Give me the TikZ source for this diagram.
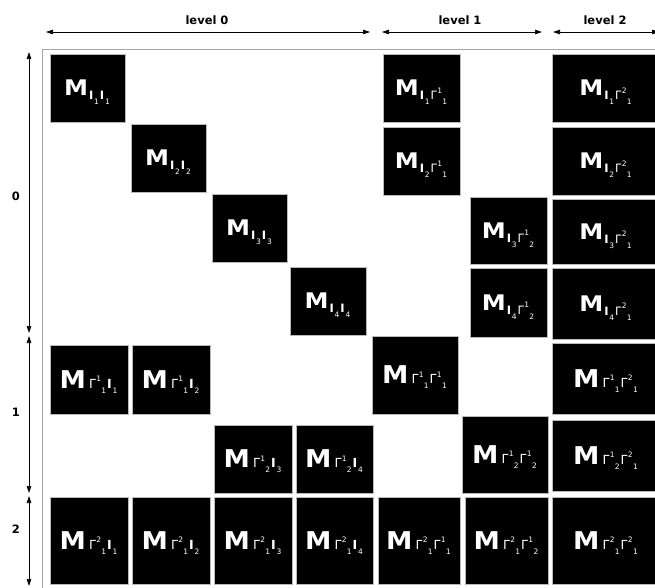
\documentclass[tikz,border=0pt]{standalone}
\usepackage{fontspec}
\setmainfont{DejaVu Sans}
\usetikzlibrary{arrows.meta,fit}

% index pieces: I with a subscript, Gamma with a superscript followed by a subscript
\newcommand\ix[2]{\raisebox{#1}{\fontsize{7.5}{7.5}\selectfont\mdseries #2}}
\newcommand\pI[1]{I\kern0.8pt\ix{-5pt}{#1}\kern1pt}
\newcommand\pG[2]{{\mdseries Γ}\kern0.3pt\ix{6.5pt}{#1}\kern0.3pt\ix{-5pt}{#2}\kern1pt}
% block labels: M followed by two index pieces
\newcommand\labI[2]{\scalebox{1.12}[1]{\fontsize{21.5}{21.5}\selectfont M}\kern1pt\raisebox{-4pt}{\fontsize{11.5}{11.5}\selectfont #1#2}}
\newcommand\labG[2]{\scalebox{1.08}[1]{\fontsize{24.5}{24.5}\selectfont M}\kern3pt{\fontsize{12.5}{12.5}\selectfont #1#2}}
% a black block given by its corners, with its label
\newcommand\blkI[6]{%
  \node[blk, fit={(#2,#3) (#4,#5)}] (#1) {};
  \node[labI] (#1-t) at ([yshift=-7.8pt]#1.center) {\labI#6};}
\newcommand\blkG[6]{%
  \node[blk, fit={(#2,#3) (#4,#5)}] (#1) {};
  \node[labG] (#1-t) at ([yshift=-8.8pt]#1.center) {\labG#6};}

\begin{document}
\begin{tikzpicture}[x=1pt,y=-1pt,
  blk/.style={fill=black, draw=gray!55, line width=0.5pt, inner sep=0pt},
  labI/.style={anchor=base, inner sep=0pt, text=white, font=\bfseries},
  labG/.style={labI},
  arr/.style={line width=0.7pt, {Triangle[length=7pt,width=4.5pt]}-{Triangle[length=7pt,width=4.5pt]}},
  frame/.style={draw=gray!70, line width=0.9pt},
  lvl/.style={font=\bfseries\fontsize{11.5}{11.5}\selectfont}]
\useasboundingbox (0,0) rectangle (655,587);
\clip (0,0) rectangle (655,587);

% outer frame
\coordinate (fr0) at (42,600);
\coordinate (fr1) at (42,49);
\coordinate (fr2) at (670,49);
\draw[frame] (fr0) -- (fr1) -- (fr2);

% level arrows along the top
\coordinate (t0a) at (46,32);  \coordinate (t0b) at (370,32);
\coordinate (t1a) at (382,32); \coordinate (t1b) at (542,32);
\coordinate (t2a) at (553,32); \coordinate (t2b) at (659,32);
\draw[arr] (t0a) -- (t0b);
\draw[arr] (t1a) -- (t1b);
\draw[arr] (t2a) -- (t2b);
\node[lvl] (lv0) at (207,20) {level 0};
\node[lvl] (lv1) at (460,20) {level 1};
\node[lvl] (lv2) at (605,20) {level 2};

% level arrows along the left side
\coordinate (l0a) at (29,52);  \coordinate (l0b) at (29,333);
\coordinate (l1a) at (29,336); \coordinate (l1b) at (29,493);
\coordinate (l2a) at (29,496); \coordinate (l2b) at (29,586);
\draw[arr] (l0a) -- (l0b);
\draw[arr] (l1a) -- (l1b);
\draw[arr] (l2a) -- (l2b);
\node[lvl] (rl0) at (16,196) {0};
\node[lvl] (rl1) at (16,412) {1};
\node[lvl] (rl2) at (16,529) {2};

% level 0 rows
\blkI{a11}{50}{54}{125}{122}{{\pI1}{\pI1}}
\blkI{b11}{383}{54}{460}{122}{{\pI1}{\pG11}}
\blkI{c11}{552}{54}{660}{122}{{\pI1}{\pG21}}

\blkI{a22}{131}{124}{206}{192}{{\pI2}{\pI2}}
\blkI{b21}{383}{127}{460}{195}{{\pI2}{\pG11}}
\blkI{c21}{552}{127}{660}{195}{{\pI2}{\pG21}}

\blkI{a33}{212}{194}{287}{262}{{\pI3}{\pI3}}
\blkI{b32}{470}{197}{547}{264}{{\pI3}{\pG12}}
\blkI{c31}{552}{199}{660}{264}{{\pI3}{\pG21}}

\blkI{a44}{290}{267}{366}{335}{{\pI4}{\pI4}}
\blkI{b42}{470}{268}{547}{337}{{\pI4}{\pG12}}
\blkI{c41}{552}{268}{660}{339}{{\pI4}{\pG21}}

% level 1 rows
\blkG{d11}{50}{345}{128}{414}{{\pG11}{\pI1}}
\blkG{d12}{132}{345}{210}{414}{{\pG11}{\pI2}}
\blkG{e11}{372}{336}{458}{414}{{\pG11}{\pG11}}
\blkG{f11}{552}{343}{660}{414}{{\pG11}{\pG21}}

\blkG{d23}{214}{425}{292}{493}{{\pG12}{\pI3}}
\blkG{d24}{296}{425}{373}{493}{{\pG12}{\pI4}}
\blkG{e22}{462}{416}{548}{493}{{\pG12}{\pG12}}
\blkG{f21}{552}{420}{660}{491}{{\pG12}{\pG21}}

% level 2 row
\blkG{g1}{50}{497}{128}{584}{{\pG21}{\pI1}}
\blkG{g2}{132}{497}{210}{584}{{\pG21}{\pI2}}
\blkG{g3}{214}{497}{292}{584}{{\pG21}{\pI3}}
\blkG{g4}{296}{497}{373}{584}{{\pG21}{\pI4}}
\blkG{g5}{378}{497}{460}{584}{{\pG21}{\pG11}}
\blkG{g6}{465}{497}{548}{584}{{\pG21}{\pG12}}
\blkG{g7}{552}{497}{660}{584}{{\pG21}{\pG21}}
\end{tikzpicture}
\end{document}
